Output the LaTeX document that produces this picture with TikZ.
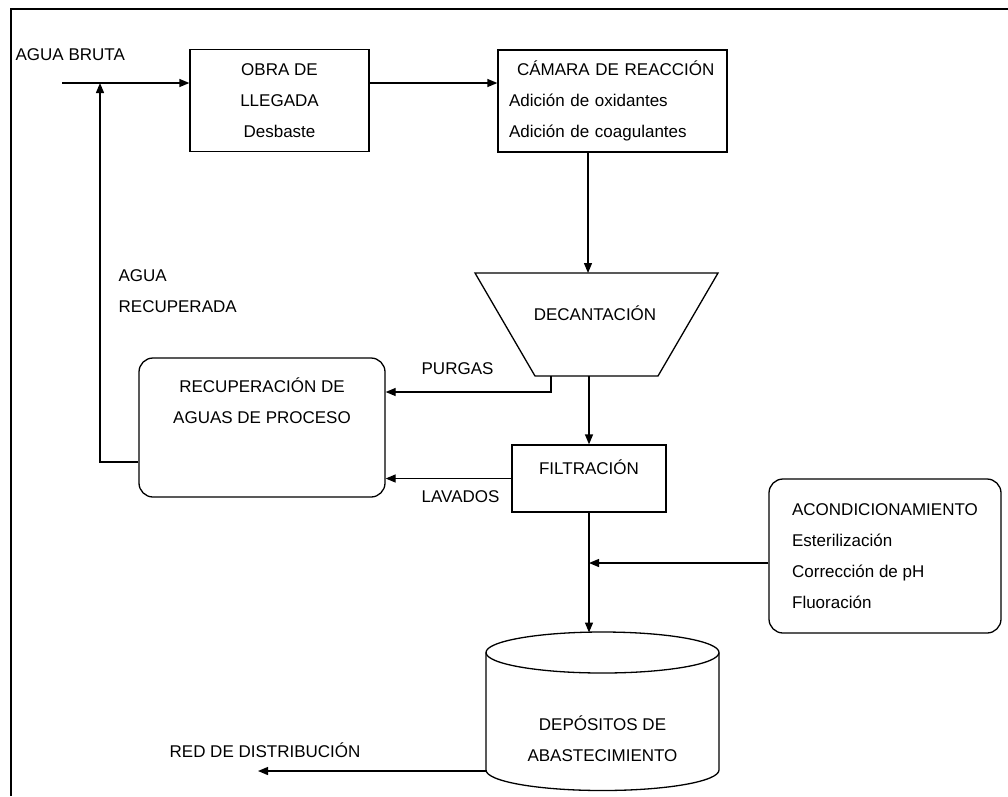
\documentclass[tikz,border=0pt]{standalone}
\usepackage{fontspec}
\setmainfont{Liberation Sans}
\usetikzlibrary{arrows.meta, positioning, calc}

\begin{document}
\begin{tikzpicture}[x=1pt, y=-1pt, line width=1.3pt,
    every node/.style={font=\fontsize{17}{31}\selectfont, inner sep=0pt},
    box/.style={draw, rectangle},
    rbox/.style={draw, rectangle, rounded corners=14pt},
    flow/.style={-{Triangle[length=10pt, width=8pt]}}]

    \useasboundingbox (0,0) rectangle (1008,796);
    \draw[line width=2pt] (11,796) -- (11,9) -- (1008,9);

    % boxes
    \node[box, minimum width=179pt, minimum height=102pt, align=center] (obra) at (279.5,100.5) {OBRA DE\\LLEGADA\\Desbaste};
    \node[box, minimum width=229pt, minimum height=102pt, text width=207pt, align=left] (camara) at (612.5,101) {\hspace*{8pt}CÁMARA DE REACCIÓN\\Adición de oxidantes\\Adición de coagulantes};
    \draw (475,273) -- (718,273) -- (658,376) -- (535,376) -- cycle;
    \node (decant) at (595,313) {DECANTACIÓN};
    \node[box, minimum width=154pt, minimum height=67pt, text depth=22pt] (filt) at (589,478.5) {FILTRACIÓN};
    \node[rbox, minimum width=246pt, minimum height=139pt] (recup) at (262,427.5) {};
    \node[below=20pt of recup.north, align=center] (recuptxt) {RECUPERACIÓN DE\\AGUAS DE PROCESO};
    \node[rbox, minimum width=232pt, minimum height=154pt, align=left] (acond) at (885,556) {ACONDICIONAMIENTO\\Esterilización\\Corrección de pH\\Fluoración};

    % deposito
    \draw (602.5,652.5) ellipse [x radius=116.5, y radius=20.5];
    \draw (486,652.5) -- (486,770) arc [start angle=180, end angle=0, x radius=116.5, y radius=20.5] -- (719,652.5);
    \node[align=center] (depo) at (602.5,739) {DEPÓSITOS DE\\ABASTECIMIENTO};

    % coordinates
    \coordinate (inp) at (62,83);
    \coordinate (ret) at (100,83);
    \coordinate (dtop) at (588,273);
    \coordinate (dbot) at (589,376);
    \coordinate (dpur) at (551,376);
    \coordinate (purin) at ([yshift=35.5pt]recup.east);
    \coordinate (rout) at ([yshift=-34.5pt]recup.west);
    \coordinate (acin) at ([yshift=-7pt]acond.west);
    \coordinate (deptop) at (589,632.5);
    \coordinate (depleft) at (486,771);
    \coordinate (red) at (258,771);

    % flows
    \draw[flow] (inp) -- (inp -| obra.west);
    \draw[flow] (inp -| obra.east) -- (inp -| camara.west);
    \draw[flow] (dtop |- camara.south) -- (dtop);
    \draw[flow] (dbot) -- (filt.north);
    \draw[flow] (dpur) |- (purin);
    \draw[flow] (filt.west) -- (filt.west -| recup.east);
    \draw[flow] (rout) -| (ret);
    \draw[flow] (filt.south) -- (deptop);
    \draw[flow] (acin) -- (acin -| filt.south);
    \draw[flow] (depleft) -- (red);

    % labels
    \node[anchor=west] (bruta) at (15,55) {AGUA BRUTA};
    \node[anchor=west, align=left] (recuperada) at (118,291.5) {AGUA\\RECUPERADA};
    \node[anchor=west] (purgas) at (421,369) {PURGAS};
    \node[anchor=west] (lavados) at (421,497) {LAVADOS};
    \node[anchor=west] (distrib) at (169,750) {RED DE DISTRIBUCIÓN};
\end{tikzpicture}
\end{document}
